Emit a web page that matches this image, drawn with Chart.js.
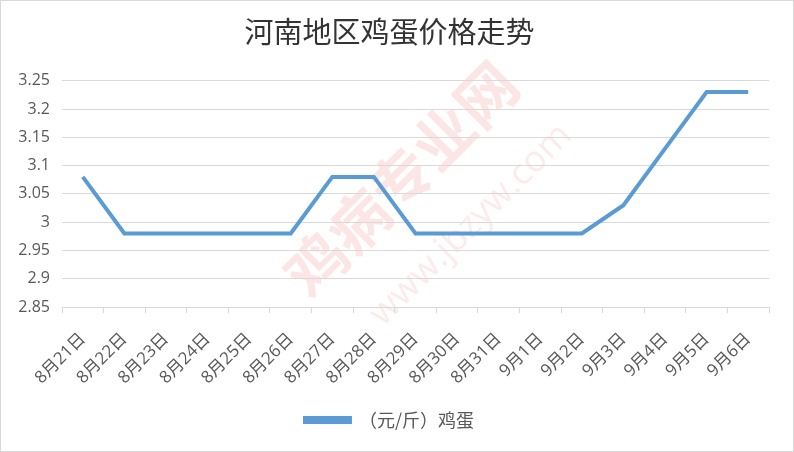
<!DOCTYPE html>
<html><head><meta charset="utf-8">
<script src="https://cdn.jsdelivr.net/npm/chart.js@4"></script>
<style>
html,body{margin:0;padding:0;background:#fff;}
#wrap{position:relative;width:792px;height:450px;border:1px solid #d9d9d9;}
canvas{display:block;}
</style></head>
<body>
<div id="wrap"><canvas id="c" width="792" height="450"></canvas></div>
<script>
const categories = ["8月21日","8月22日","8月23日","8月24日","8月25日","8月26日","8月27日","8月28日","8月29日","8月30日","8月31日","9月1日","9月2日","9月3日","9月4日","9月5日","9月6日"];
const eggPrices = [3.08,2.98,2.98,2.98,2.98,2.98,3.08,3.08,2.98,2.98,2.98,2.98,2.98,3.03,3.13,3.23,3.23];
const seriesName = "（元/斤）鸡蛋";
const chartTitle = "河南地区鸡蛋价格走势";
const yMin = 2.85, yMax = 3.25, yStep = 0.05;

const watermark = {
  id: 'watermark',
  beforeDraw(chart) {
    const ctx = chart.ctx;
    ctx.save();
    ctx.translate(400, 178);
    ctx.rotate(-Math.PI / 4);
    ctx.fillStyle = 'rgba(232,70,70,0.14)';
    ctx.font = 'bold 60px "Noto Sans CJK SC"';
    ctx.textAlign = 'center';
    ctx.textBaseline = 'middle';
    ctx.fillText('鸡病专业网', 0, 0);
    ctx.restore();
    ctx.save();
    ctx.translate(470, 224);
    ctx.rotate(-Math.PI / 4);
    ctx.font = '36px "Open Sans"';
    ctx.textAlign = 'center';
    ctx.textBaseline = 'middle';
    ctx.fillStyle = 'rgba(232,70,70,0.11)';
    ctx.fillText('www.jbzyw.com', 0, 0);
    ctx.restore();
  }
};

new Chart(document.getElementById('c'), {
  type: 'line',
  data: {
    labels: categories,
    datasets: [{
      label: seriesName,
      data: eggPrices,
      borderColor: '#5b9bd5',
      backgroundColor: '#5b9bd5',
      borderWidth: 4,
      pointRadius: 0,
      tension: 0,
      fill: false
    }]
  },
  options: {
    responsive: false,
    animation: false,
    devicePixelRatio: 1,
    layout: { padding: { left: 9, right: 24, top: 0, bottom: 12 } },
    plugins: {
      title: {
        display: true,
        text: chartTitle,
        color: '#333333',
        font: { family: '"Noto Sans CJK SC"', size: 29, weight: 'normal' },
        padding: { top: 14, bottom: 31 }
      },
      legend: {
        display: true,
        position: 'bottom',
        labels: {
          color: '#595959',
          font: { family: '"Noto Sans CJK SC"', size: 18 },
          boxWidth: 45,
          boxHeight: 4,
          padding: 10
        }
      },
      tooltip: { enabled: false }
    },
    scales: {
      x: {
        offset: true,
        grid: { offset: true, drawOnChartArea: false, color: '#d9d9d9', tickLength: 6, lineWidth: 1 },
        border: { display: true, color: '#d9d9d9' },
        ticks: {
          color: '#595959',
          font: { family: '"Open Sans","Noto Sans CJK SC"', size: 17 },
          minRotation: 45, maxRotation: 45,
          autoSkip: false,
          padding: 16
        },
        afterFit(s) { s.height = 94; }
      },
      y: {
        min: yMin, max: yMax,
        grid: { color: '#d9d9d9', drawTicks: false, lineWidth: 1 },
        border: { display: false },
        ticks: {
          stepSize: yStep,
          color: '#595959',
          font: { family: '"Open Sans"', size: 16 },
          padding: 12,
          callback: v => String(Math.round(v * 100) / 100)
        },
        afterFit(s) { s.width = 52; }
      }
    }
  },
  plugins: [watermark]
});
</script>
</body></html>
